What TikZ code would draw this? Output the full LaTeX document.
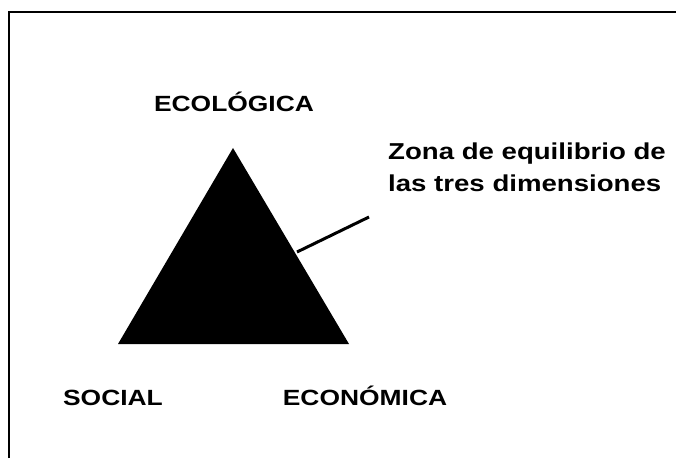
\documentclass[tikz,border=0pt]{standalone}
\usepackage{fontspec}
\newfontfamily\diagfont[FakeStretch=1.2]{Liberation Sans}
\usepackage{tikz}

\begin{document}
\begin{tikzpicture}[
		x=1pt, y=1pt,
		labelText/.style={inner sep=0pt, anchor=base, font=\diagfont\bfseries\fontsize{22}{26}\selectfont},
		noteText/.style={inner sep=0pt, anchor=north west, align=left, font=\diagfont\bfseries\fontsize{23}{32}\selectfont}
	]
	
	\useasboundingbox (0,0) rectangle (676,458);
	\draw [line width=2pt] (9,0) -- (9,446) -- (676,446);
	
	\coordinate (apex) at (233,310);
	\coordinate (baseL) at (118,114);
	\coordinate (baseR) at (349,114);
	\fill [black] (apex) -- (baseL) -- (baseR) -- cycle;
	
	\node[labelText] (nodeEco) at (234,346) {ECOLÓGICA};
	\node[labelText] (nodeSoc) at (113,53) {SOCIAL};
	\node[labelText] (nodeEcon) at (365,53) {ECONÓMICA};
	\node[noteText] (nodeNote) at (388,315) {Zona de equilibrio de\\las tres dimensiones};
	
	\coordinate (zone) at (297,206);
	\coordinate (leaderEnd) at (369,241);
	\draw [-, line width=3pt] (zone) to (leaderEnd);
\end{tikzpicture}
\end{document}
